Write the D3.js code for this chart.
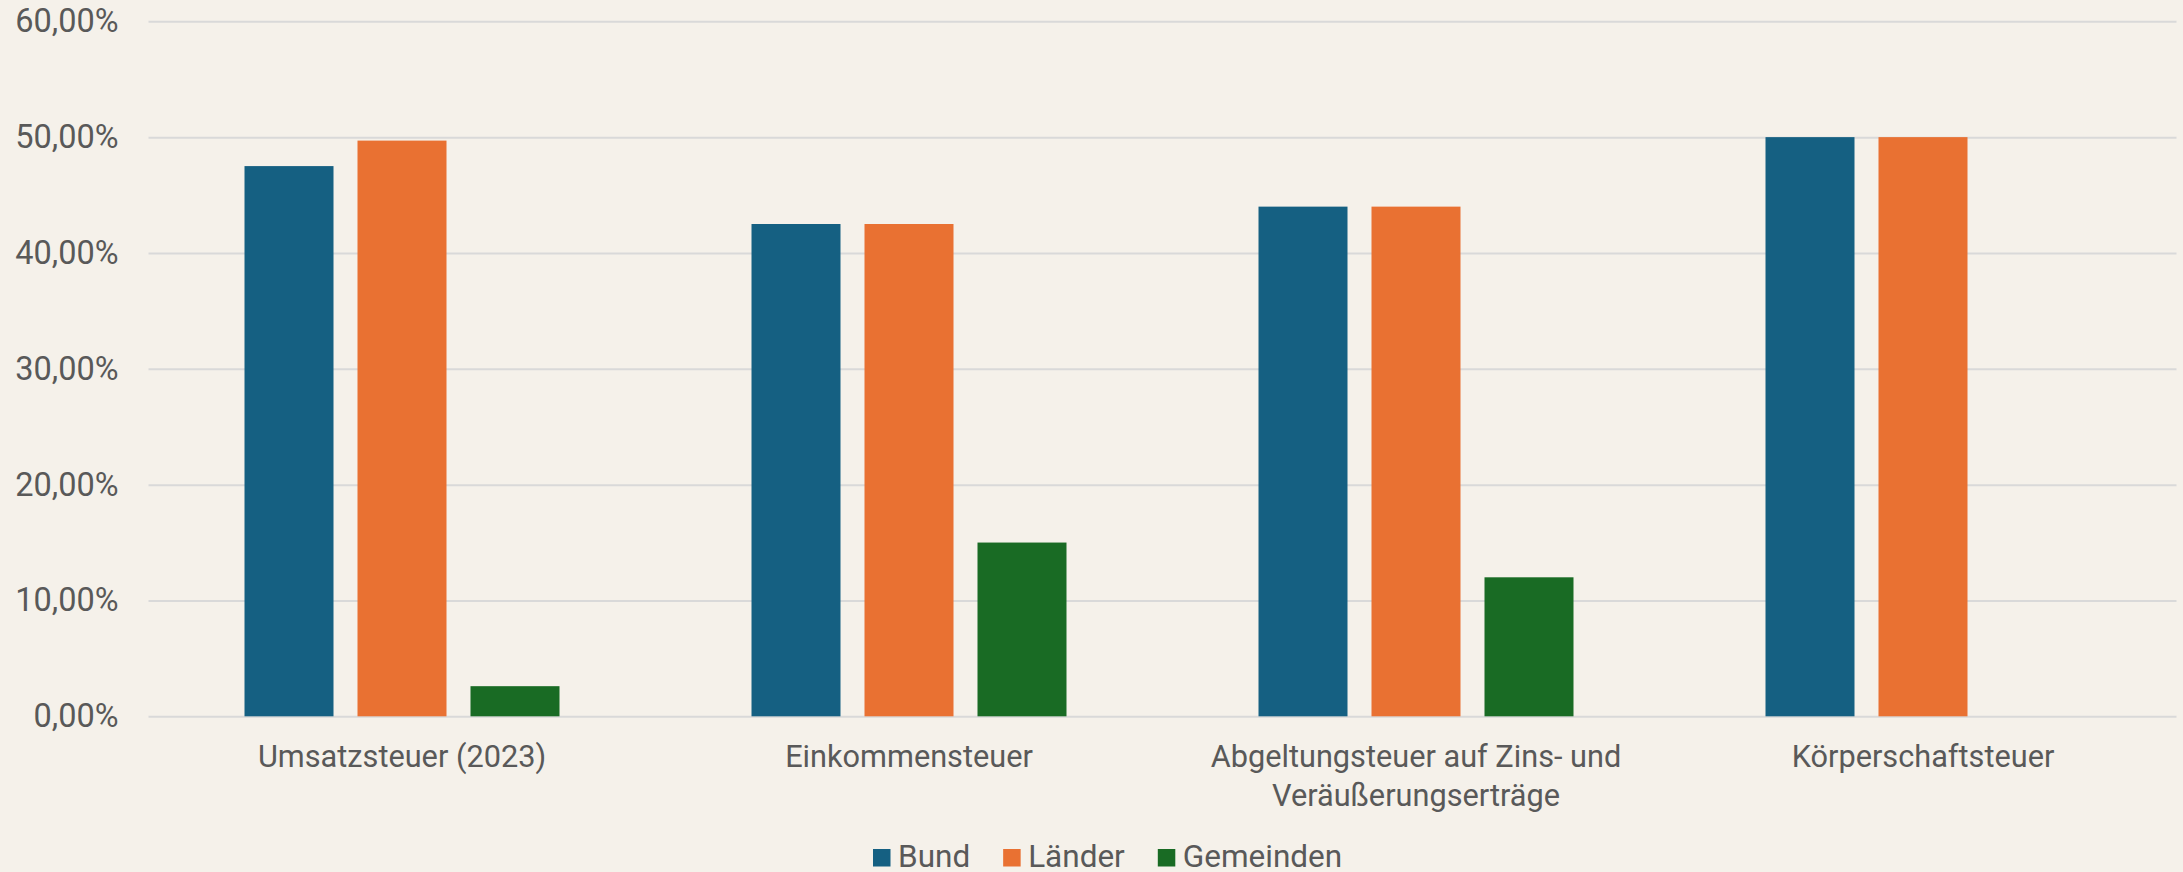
<!DOCTYPE html>
<html>
<head>
<meta charset="utf-8">
<script src="https://cdn.jsdelivr.net/npm/d3@7"></script>
<style>
  html, body { margin: 0; padding: 0; background: #f5f1ea; }
  svg { display: block; }
  text { font-family: Roboto, "Open Sans", sans-serif; fill: #595959; }
</style>
</head>
<body>
<svg id="chart" width="2183" height="872"></svg>
<script>
const categories = ["Umsatzsteuer (2023)", "Einkommensteuer", "Abgeltungsteuer auf Zins- und Veräußerungserträge", "Körperschaftsteuer"];
const seriesNames = ["Bund", "Länder", "Gemeinden"];
const bund = [47.5, 42.5, 44, 50];
const laender = [49.7, 42.5, 44, 50];
const gemeinden = [2.6, 15, 12, null];
const yTicks = [0, 10, 20, 30, 40, 50, 60];
const colors = ["#156082", "#E97132", "#196B24"];

(function () {
const seriesValues = [bund, laender, gemeinden];
const W = 2183, H = 872;
const mLeft = 148.5, mRight = 2176.5, mTop = 21.3, mBottom = 716.3;
const svg = d3.select("#chart");
svg.append("rect").attr("width", W).attr("height", H).attr("fill", "#f5f1ea");

const x0 = d3.scaleBand().domain(categories).range([mLeft, mRight]).paddingInner(0).paddingOuter(0);
const x1 = d3.scaleBand().domain(seriesNames).range([0, x0.bandwidth()]).paddingInner(0.2124).paddingOuter(0.8496);
const y = d3.scaleLinear().domain([0, 60]).range([mBottom, mTop]);

// gridlines + y labels
const yAxis = d3.axisLeft(y).tickValues(yTicks).tickSize(-(mRight - mLeft)).tickPadding(30)
  .tickFormat(d => d3.format(".2f")(d).replace(".", ",") + "%");
const gy = svg.append("g").attr("transform", `translate(${mLeft},0)`).call(yAxis);
gy.select(".domain").remove();
gy.selectAll(".tick line").attr("stroke", "#d9d9d9").attr("stroke-width", 2);
gy.selectAll(".tick text").attr("font-size", 32.5).attr("fill", "#595959").style("font-family", "Roboto, sans-serif");

// bars
const rows = categories.map((c, i) => ({cat: c, vals: seriesNames.map((s, j) => ({s, v: seriesValues[j][i], j}))}));
const g = svg.append("g");
g.selectAll("g.cat").data(rows).join("g").attr("class", "cat")
  .attr("transform", d => `translate(${x0(d.cat)},0)`)
  .selectAll("rect").data(d => d.vals.filter(v => v.v != null)).join("rect")
  .attr("x", d => x1(d.s)).attr("width", x1.bandwidth())
  .attr("y", d => y(d.v)).attr("height", d => y(0) - y(d.v))
  .attr("fill", d => colors[d.j]);

// x axis labels
const xAxis = d3.axisBottom(x0).tickSize(0).tickPadding(0);
const gx = svg.append("g").attr("transform", `translate(0,${mBottom})`).call(xAxis);
gx.select(".domain").remove();
gx.selectAll(".tick text").attr("font-size", 30.7).attr("fill", "#595959").style("font-family", "Roboto, sans-serif")
  .attr("dy", null).attr("y", 0)
  .each(function(d) {
    const t = d3.select(this);
    const words = d.split(" ");
    t.text(null);
    const lines = [];
    let line = [];
    const tmp = t.append("tspan");
    words.forEach(w => {
      line.push(w);
      tmp.text(line.join(" "));
      if (tmp.node().getComputedTextLength() > 470 && line.length > 1) {
        line.pop();
        lines.push(line.join(" "));
        line = [w];
      }
    });
    lines.push(line.join(" "));
    tmp.remove();
    lines.forEach((l, k) => {
      t.append("tspan").attr("x", 0).attr("y", 50.5 + k * 39.5).text(l);
    });
  });

// legend
const legend = svg.append("g");
let lx = 873;
seriesNames.forEach((s, j) => {
  legend.append("rect").attr("x", lx).attr("y", 849).attr("width", 17.5).attr("height", 17.5).attr("fill", colors[j]);
  const t = legend.append("text").attr("x", lx + 25).attr("y", 866.5).attr("font-size", 31.5).text(s);
  lx = lx + 25 + t.node().getComputedTextLength() + 33;
});
})();
</script>
</body>
</html>
